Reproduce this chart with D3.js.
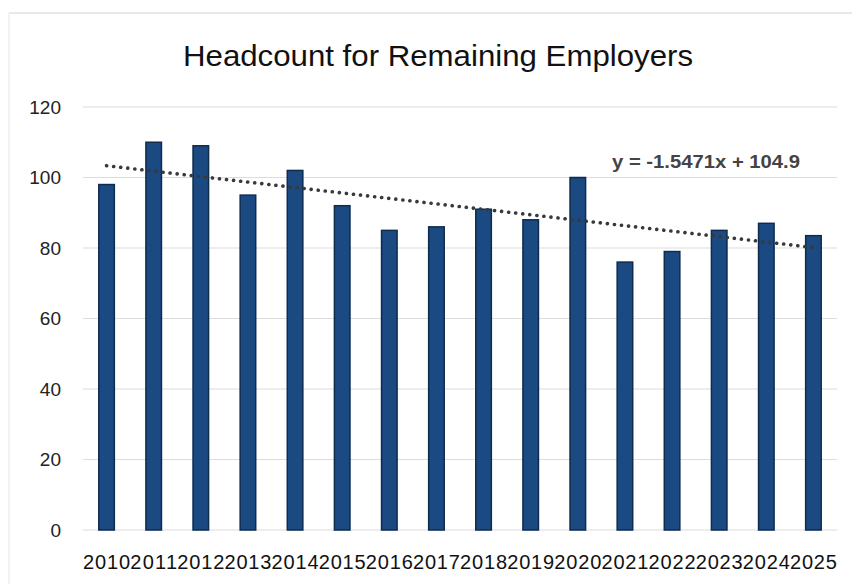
<!DOCTYPE html>
<html>
<head>
<meta charset="utf-8">
<script src="https://cdn.jsdelivr.net/npm/d3@7"></script>
<style>
  body { margin: 0; background: #fff; }
  svg { display: block; font-family: "Liberation Sans", Arial, sans-serif; }
</style>
</head>
<body>
<div id="chart"></div>
<script>
const years = ["2010","2011","2012","2013","2014","2015","2016","2017","2018","2019","2020","2021","2022","2023","2024","2025"];
const headcount = [98, 110, 109, 95, 102, 92, 85, 86, 91, 88, 100, 76, 79, 85, 87, 83.5];
const yTicks = [0, 20, 40, 60, 80, 100, 120];
// trendline coefficients as shown on the chart
const trendSlope = -1.5471;
const trendIntercept = 104.9;

const width = 852;
const height = 584;
const margin = { top: 107, right: 15, bottom: 54, left: 83 };

const svg = d3.select("#chart")
    .append("svg")
    .attr("width", width)
    .attr("height", height);

// faint frame of the chart area
svg.append("line")
    .attr("x1", 9).attr("x2", width).attr("y1", 13).attr("y2", 13)
    .attr("stroke", "#e8e8e8").attr("stroke-width", 2);
svg.append("line")
    .attr("x1", 9).attr("x2", 9).attr("y1", 13).attr("y2", height)
    .attr("stroke", "#f2f2f2").attr("stroke-width", 2);

const x = d3.scaleBand()
    .domain(years)
    .range([margin.left, width - margin.right])
    .paddingInner(0.67)
    .paddingOuter(0.335);

const y = d3.scaleLinear()
    .domain([0, 120])
    .range([height - margin.bottom, margin.top]);

// gridlines
svg.append("g")
    .selectAll("line")
    .data(yTicks)
    .enter()
    .append("line")
    .attr("x1", margin.left)
    .attr("x2", width - margin.right)
    .attr("y1", d => y(d))
    .attr("y2", d => y(d))
    .attr("stroke", "#dcdcdc")
    .attr("stroke-width", 1.2);

// y labels
svg.append("g")
    .selectAll("text")
    .data(yTicks)
    .enter()
    .append("text")
    .attr("x", 61)
    .attr("y", d => y(d))
    .attr("dy", "0.36em")
    .attr("text-anchor", "end")
    .style("font-size", "19px")
    .attr("fill", "#222")
    .text(d => d);

// bars
svg.append("g")
    .selectAll("rect")
    .data(years)
    .enter()
    .append("rect")
    .attr("x", d => x(d))
    .attr("width", x.bandwidth())
    .attr("y", (d, i) => y(headcount[i]))
    .attr("height", (d, i) => y(0) - y(headcount[i]))
    .attr("fill", "#1b4a82")
    .attr("stroke", "#0f2b4d")
    .attr("stroke-width", 1.5);

// x labels
svg.append("g")
    .selectAll("text")
    .data(years)
    .enter()
    .append("text")
    .attr("x", d => x(d) + x.bandwidth() / 2)
    .attr("y", 569)
    .attr("text-anchor", "middle")
    .style("font-size", "20px")
    .attr("textLength", 47)
    .attr("lengthAdjust", "spacing")
    .attr("fill", "#111")
    .text(d => d);

// linear trendline
const trend = years.map((yr, i) => ({ yr: yr, v: trendSlope * (i + 1) + trendIntercept }));
svg.append("path")
    .datum(trend)
    .attr("d", d3.line()
        .x(d => x(d.yr) + x.bandwidth() / 2)
        .y(d => y(d.v)))
    .attr("fill", "none")
    .attr("stroke", "#353a3e")
    .attr("stroke-width", 3.6)
    .attr("stroke-linecap", "round")
    .attr("stroke-dasharray", "0.1 7");

svg.append("text")
    .attr("x", 706)
    .attr("y", 168)
    .attr("text-anchor", "middle")
    .style("font-size", "18px")
    .style("font-weight", "bold")
    .attr("textLength", 188)
    .attr("lengthAdjust", "spacingAndGlyphs")
    .attr("fill", "#444")
    .text(`y = ${trendSlope}x + ${trendIntercept}`);

// title
svg.append("text")
    .attr("x", 438)
    .attr("y", 66)
    .attr("text-anchor", "middle")
    .style("font-size", "30px")
    .attr("textLength", 510)
    .attr("lengthAdjust", "spacingAndGlyphs")
    .attr("fill", "#111")
    .text("Headcount for Remaining Employers");
</script>
</body>
</html>
